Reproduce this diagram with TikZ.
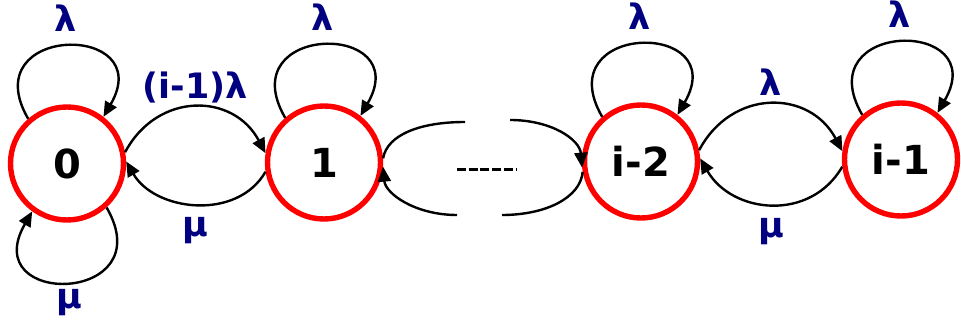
\documentclass[tikz,border=0pt]{standalone}
\usepackage{fontspec}
\setmainfont{DejaVu Sans}
\usetikzlibrary{arrows.meta}
\definecolor{ratecol}{RGB}{0,0,128}

\begin{document}
\begin{tikzpicture}[x=0.5pt, y=0.5pt]
	\tikzset{
		state/.style={
			circle,
			draw=red,
			line width=2.7pt,
			minimum size=56.5pt,
			inner sep=0pt,
			font=\fontsize{20}{20}\selectfont\bfseries
		},
		rate/.style={
			inner sep=0pt,
			text=ratecol,
			font=\fontsize{17.5}{17.5}\selectfont\bfseries
		},
		line/.style={
			-{Triangle[length=7.5pt,width=6.5pt]},
			line width=1.2pt
		},
		open/.style={
			line width=1.2pt
		}
	}
	\useasboundingbox (0,0) rectangle (961,321);

	\node[state] (s0) at (67, 157.5)
		{0};
	\node[state] (s1) at (324, 158.5)
		{1};
	\node[state] (si-2) at (641, 159.5)
		{i-2};
	\node[state] (si-1) at (901, 161.5)
		{i-1};

	% free ends of the cut arcs
	\coordinate (cut1-up) at (465, 199);
	\coordinate (cut1-low) at (457, 106);
	\coordinate (cut2-up) at (510, 201);
	\coordinate (cut2-low) at (502, 106);
	\coordinate (dots-a) at (457, 151.5);
	\coordinate (dots-b) at (517, 151.5);

	% self loops
	\draw[line] (s0.131) .. controls +(120:110) and +(60:110) .. (s0.52)
		node[rate, pos=0.5, above=7pt] (lam0) {λ};
	\draw[line] (s0.-48) .. controls +(-60:112) and +(240:112) .. (s0.-126)
		node[rate, pos=0.5, below=3pt] (mu0) {μ};
	\draw[line] (s1.131) .. controls +(120:110) and +(60:110) .. (s1.52)
		node[rate, pos=0.5, above=7pt] (lam1) {λ};
	\draw[line] (si-2.131) .. controls +(120:110) and +(60:110) .. (si-2.52)
		node[rate, pos=0.5, above=7pt] (lam2) {λ};
	\draw[line] (si-1.131) .. controls +(120:110) and +(60:110) .. (si-1.52)
		node[rate, pos=0.5, above=7pt] (lam3) {λ};

	% between neighbours
	\draw[line] (s0.11) to[out=62, in=118, looseness=1.25]
		node[rate, above=4pt, text depth=0pt] (lam01) {(i-1)λ} (s1.171);
	\draw[line] (s1.189) to[out=-120, in=-60, looseness=1.05]
		node[rate, below=6pt] (mu01) {μ} (s0.2);
	\draw[line] (si-2.11) to[out=62, in=118, looseness=1.25]
		node[rate, above=4pt] (lam23) {λ} (si-1.172);
	\draw[line] (si-1.187) to[out=-120, in=-60, looseness=1.15]
		node[rate, below=6.5pt] (mu23) {μ} (si-2.3);

	% cut arcs round the dots
	\draw[open] (s1.4) .. controls +(80:24) and +(180:45) .. (cut1-up);
	\draw[line] (cut1-low) .. controls +(180:42) and +(-85:27) .. (s1.-4);
	\draw[line] (cut2-up) .. controls +(0:42) and +(95:28) .. (si-2.186);
	\draw[open] (si-2.190) .. controls +(-95:26) and +(0:44) .. (cut2-low);

	\draw[line width=1.6pt, dash pattern=on 4.5pt off 1.35pt] (dots-a) -- (dots-b);

\end{tikzpicture}
\end{document}
